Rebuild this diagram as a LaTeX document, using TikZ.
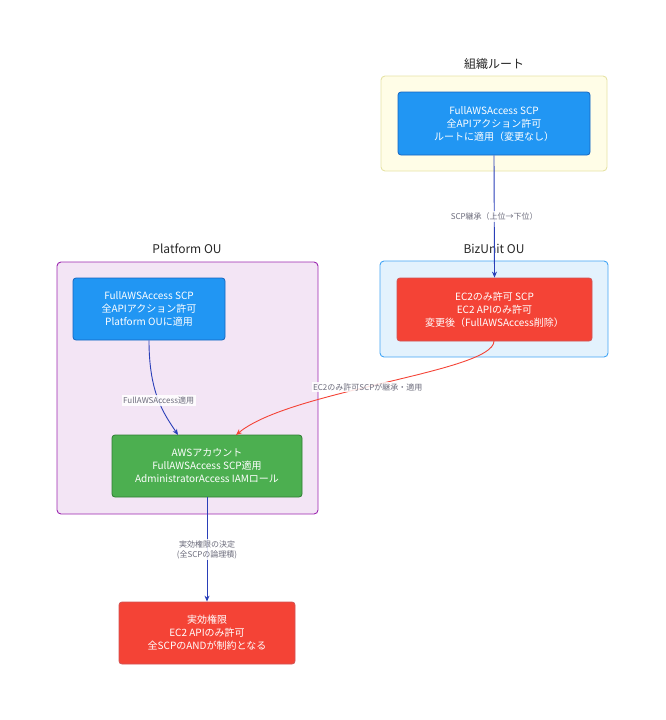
\documentclass[tikz,border=0pt]{standalone}
\usepackage{fontspec}
\setmainfont{Noto Sans CJK JP}
\usetikzlibrary{arrows.meta}
\definecolor{cblue}{HTML}{2196F3}
\definecolor{cblueb}{HTML}{1565C0}
\definecolor{cred}{HTML}{F44336}
\definecolor{credb}{HTML}{C62828}
\definecolor{cgreen}{HTML}{4CAF50}
\definecolor{cgreenb}{HTML}{2E7D32}
\definecolor{rootfill}{HTML}{FFFDE7}
\definecolor{rootdraw}{HTML}{E6E3A6}
\definecolor{bizfill}{HTML}{E3F2FD}
\definecolor{bizdraw}{HTML}{42A5F5}
\definecolor{platfill}{HTML}{F3E5F5}
\definecolor{platdraw}{HTML}{9C27B0}
\definecolor{arrowblue}{HTML}{2A3FB8}
\definecolor{lblgray}{HTML}{6B6B7B}
\begin{document}
\begin{tikzpicture}[x=1pt,y=-1pt,
  cluster/.style={rounded corners=4pt,line width=0.9pt},
  boxnode/.style={rounded corners=3pt,line width=0.8pt,text=white,align=center,font=\fontsize{10}{13}\selectfont,inner sep=0pt},
  ctitle/.style={font=\fontsize{12}{14}\selectfont,text=black!85},
  elabel/.style={font=\fontsize{8}{10}\selectfont,text=lblgray,fill=white,fill opacity=0.85,text opacity=1,inner sep=1.5pt,align=center},
  barrow/.style={draw=arrowblue,line width=0.9pt,-{Stealth[length=6pt,width=5pt]}},
  rarrow/.style={draw=cred,line width=0.9pt,-{Stealth[length=6pt,width=5pt]}}]
\useasboundingbox (0,0) rectangle (665,720);
% clusters
\draw[cluster,fill=rootfill,draw=rootdraw] (381,76) rectangle (607,171);
\node[ctitle] (troot) at (494,64) {組織ルート};
\draw[cluster,fill=bizfill,draw=bizdraw] (380,261) rectangle (608,357);
\node[ctitle] (tbiz) at (494,249) {BizUnit OU};
\draw[cluster,fill=platfill,draw=platdraw] (57,262) rectangle (318,514);
\node[ctitle] (tplat) at (187,249) {Platform OU};
% nodes
\node[boxnode,fill=cblue,draw=cblueb,minimum width=192pt,minimum height=63pt] (root) at (494,123.5) {FullAWSAccess SCP\\全APIアクション許可\\ルートに適用（変更なし）};
\node[boxnode,fill=cred,draw=credb!80,minimum width=195pt,minimum height=63pt] (biz) at (494.5,309.5) {EC2のみ許可 SCP\\EC2 APIのみ許可\\変更後（FullAWSAccess削除）};
\node[boxnode,fill=cblue,draw=cblueb,minimum width=152pt,minimum height=62pt] (plat) at (149,309) {FullAWSAccess SCP\\全APIアクション許可\\Platform OUに適用};
\node[boxnode,fill=cgreen,draw=cgreenb,minimum width=190pt,minimum height=62pt] (acct) at (207,466) {AWSアカウント\\FullAWSAccess SCP適用\\AdministratorAccess IAMロール};
\node[boxnode,fill=cred,draw=credb!80,minimum width=176pt,minimum height=62pt] (eff) at (207,633) {実効権限\\EC2 APIのみ許可\\全SCPのANDが制約となる};
% edges
\draw[barrow] (root.south) -- node[elabel,pos=0.5] (l1) {SCP継承（上位→下位）} (biz.north);
\draw[barrow] (plat.south) .. controls (149,395) and (165,415) .. node[elabel,pos=0.5] (l2) {FullAWSAccess適用} (178,435);
\draw[rarrow] (494,341) .. controls (494,372) and (290,390) .. node[elabel,pos=0.55] (l3) {EC2のみ許可SCPが継承・適用} (236,435);
\draw[barrow] (acct.south) -- node[elabel,pos=0.5] (l4) {実効権限の決定\\(全SCPの論理積)} (eff.north);
\end{tikzpicture}
\end{document}
